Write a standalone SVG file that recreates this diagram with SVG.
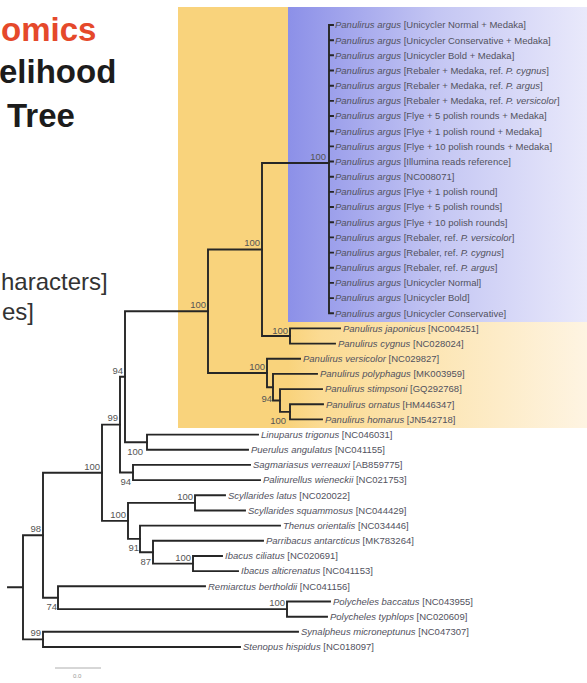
<svg xmlns="http://www.w3.org/2000/svg" width="587" height="683" viewBox="0 0 587 683">
<style>
.br{fill:none;stroke:#262626;stroke-width:1.9;stroke-linecap:square}
.lf{font-family:"Liberation Sans",Arial,sans-serif;font-size:9.5px;fill:#52525e}
.sup{font-family:"Liberation Sans",Arial,sans-serif;font-size:9.5px;fill:#555;text-anchor:end}
.ttl{font-family:"Liberation Sans",Arial,sans-serif;font-size:33px;font-weight:bold;fill:#1c1c1c}
.sub{font-family:"Liberation Sans",Arial,sans-serif;font-size:24px;fill:#333}
.sp{font-style:italic}
</style>
<defs>
<linearGradient id="gy" x1="178" y1="0" x2="587" y2="0" gradientUnits="userSpaceOnUse">
<stop offset="0" stop-color="#f9d37c"/>
<stop offset="0.27" stop-color="#f9d37c"/>
<stop offset="0.35" stop-color="#fbdb93"/>
<stop offset="1" stop-color="#fef4e2"/>
</linearGradient>
<linearGradient id="gb" x1="288" y1="0" x2="587" y2="0" gradientUnits="userSpaceOnUse">
<stop offset="0" stop-color="#8c90e8"/>
<stop offset="0.5" stop-color="#c4c6f3"/>
<stop offset="1" stop-color="#e9e9fb"/>
</linearGradient>
</defs>
<rect width="587" height="683" fill="#fff"/>
<g id="highlights">
<rect x="178" y="7" width="409" height="421" fill="url(#gy)"/>
<rect x="288" y="7" width="299" height="315" fill="url(#gb)"/>
</g>
<g id="title">
<text class="ttl" x="1" y="41" style="fill:#e5492b">omics</text>
<text class="ttl" x="-1" y="83">elihood</text>
<text class="ttl" x="7" y="127">Tree</text>
<text class="sub" x="1" y="290">haracters]</text>
<text class="sub" x="2" y="320">es]</text>
</g>
<g id="connectors">
<path class="br" d="M8,587.3H23M23,535.2V639.4M23,535.2H43M23,639.4H43"/>
<path class="br" d="M43,472.8V597.7M43,472.8H102M43,597.7H58"/>
<path class="br" d="M43,631.8V647M43,631.8H298M43,647H240"/>
<path class="br" d="M58,586.3V609.1M58,586.3H205M58,609.1H287"/>
<path class="br" d="M287,601.5V616.7M287,601.5H330M287,616.7H327"/>
<path class="br" d="M102,424.6V520.9M102,424.6H120M102,520.9H128"/>
<path class="br" d="M120,376.7V472.5M120,376.7H125M120,472.5H133"/>
<path class="br" d="M133,464.9V480.1M133,464.9H250M133,480.1H260"/>
<path class="br" d="M125,311.2V442.2M125,311.2H208M125,442.2H147"/>
<path class="br" d="M147,434.6V449.8M147,434.6H258M147,449.8H248"/>
<path class="br" d="M128,502.9V538.9M128,502.9H195M128,538.9H140"/>
<path class="br" d="M195,495.3V510.5M195,495.3H225M195,510.5H245"/>
<path class="br" d="M140,525.6V552.2M140,525.6H280M140,552.2H153"/>
<path class="br" d="M153,540.8V563.6M153,540.8H263M153,563.6H193"/>
<path class="br" d="M193,556V571.1M193,556H222M193,571.1H238"/>
<path class="br" d="M208,249.5V373M208,249.5H262M208,373H267"/>
<path class="br" d="M262,163V336M262,163H329M262,336H290"/>
<path class="br" d="M290,328.4V343.6M290,328.4H340M290,343.6H335"/>
<path class="br" d="M267,358.7V387.2M267,358.7H300M267,387.2H273"/>
<path class="br" d="M273,373.9V400.5M273,373.9H317M273,400.5H280"/>
<path class="br" d="M280,389.1V411.9M280,389.1H322M280,411.9H290"/>
<path class="br" d="M290,404.3V419.4M290,404.3H323M290,419.4H322"/>
<path class="br" d="M329,25V313.2M329,25H333M329,40.2H333M329,55.3H333M329,70.5H333M329,85.7H333M329,100.9H333M329,116H333M329,131.2H333M329,146.4H333M329,161.5H333M329,176.7H333M329,191.9H333M329,207H333M329,222.2H333M329,237.4H333M329,252.6H333M329,267.7H333M329,282.9H333M329,298.1H333M329,313.2H333"/>
<path d="M55,668H101" stroke="#999" stroke-width="0.8" fill="none"/>
</g>
<g id="support">
<text class="sup" x="41" y="532">98</text>
<text class="sup" x="41" y="636">99</text>
<text class="sup" x="57" y="610">74</text>
<text class="sup" x="100" y="470">100</text>
<text class="sup" x="118" y="421">99</text>
<text class="sup" x="123" y="374">94</text>
<text class="sup" x="206" y="308">100</text>
<text class="sup" x="260" y="246">100</text>
<text class="sup" x="326" y="160">100</text>
<text class="sup" x="288" y="334">100</text>
<text class="sup" x="265" y="370">100</text>
<text class="sup" x="272" y="402">94</text>
<text class="sup" x="286" y="424">100</text>
<text class="sup" x="143" y="455">100</text>
<text class="sup" x="131" y="485">94</text>
<text class="sup" x="126" y="518">100</text>
<text class="sup" x="193" y="500">100</text>
<text class="sup" x="139" y="551">91</text>
<text class="sup" x="151" y="565">87</text>
<text class="sup" x="191" y="561">100</text>
<text class="sup" x="285" y="606">100</text>
<text x="73" y="678" style="font-family:'Liberation Sans',Arial,sans-serif;font-size:6px;fill:#999">0.0</text>
</g>
<g id="leaves">
<g id="n0"><text class="lf" x="335" y="28.3"><tspan class="sp">Panulirus argus</tspan> [Unicycler Normal + Medaka]</text></g>
<g id="n1"><text class="lf" x="335" y="43.5"><tspan class="sp">Panulirus argus</tspan> [Unicycler Conservative + Medaka]</text></g>
<g id="n2"><text class="lf" x="335" y="58.6"><tspan class="sp">Panulirus argus</tspan> [Unicycler Bold + Medaka]</text></g>
<g id="n3"><text class="lf" x="335" y="73.8"><tspan class="sp">Panulirus argus</tspan> [Rebaler + Medaka, ref. <tspan class="sp">P. cygnus</tspan>]</text></g>
<g id="n4"><text class="lf" x="335" y="89"><tspan class="sp">Panulirus argus</tspan> [Rebaler + Medaka, ref. <tspan class="sp">P. argus</tspan>]</text></g>
<g id="n5"><text class="lf" x="335" y="104.2"><tspan class="sp">Panulirus argus</tspan> [Rebaler + Medaka, ref. <tspan class="sp">P. versicolor</tspan>]</text></g>
<g id="n6"><text class="lf" x="335" y="119.3"><tspan class="sp">Panulirus argus</tspan> [Flye + 5 polish rounds + Medaka]</text></g>
<g id="n7"><text class="lf" x="335" y="134.5"><tspan class="sp">Panulirus argus</tspan> [Flye + 1 polish round + Medaka]</text></g>
<g id="n8"><text class="lf" x="335" y="149.7"><tspan class="sp">Panulirus argus</tspan> [Flye + 10 polish rounds + Medaka]</text></g>
<g id="n9"><text class="lf" x="335" y="164.8"><tspan class="sp">Panulirus argus</tspan> [Illumina reads reference]</text></g>
<g id="n10"><text class="lf" x="335" y="180"><tspan class="sp">Panulirus argus</tspan> [NC008071]</text></g>
<g id="n11"><text class="lf" x="335" y="195.2"><tspan class="sp">Panulirus argus</tspan> [Flye + 1 polish round]</text></g>
<g id="n12"><text class="lf" x="335" y="210.3"><tspan class="sp">Panulirus argus</tspan> [Flye + 5 polish rounds]</text></g>
<g id="n13"><text class="lf" x="335" y="225.5"><tspan class="sp">Panulirus argus</tspan> [Flye + 10 polish rounds]</text></g>
<g id="n14"><text class="lf" x="335" y="240.7"><tspan class="sp">Panulirus argus</tspan> [Rebaler, ref. <tspan class="sp">P. versicolor</tspan>]</text></g>
<g id="n15"><text class="lf" x="335" y="255.9"><tspan class="sp">Panulirus argus</tspan> [Rebaler, ref. <tspan class="sp">P. cygnus</tspan>]</text></g>
<g id="n16"><text class="lf" x="335" y="271"><tspan class="sp">Panulirus argus</tspan> [Rebaler, ref. <tspan class="sp">P. argus</tspan>]</text></g>
<g id="n17"><text class="lf" x="335" y="286.2"><tspan class="sp">Panulirus argus</tspan> [Unicycler Normal]</text></g>
<g id="n18"><text class="lf" x="335" y="301.4"><tspan class="sp">Panulirus argus</tspan> [Unicycler Bold]</text></g>
<g id="n19"><text class="lf" x="335" y="316.5"><tspan class="sp">Panulirus argus</tspan> [Unicycler Conservative]</text></g>
<g id="n20"><text class="lf" x="343" y="331.7"><tspan class="sp">Panulirus japonicus</tspan> [NC004251]</text></g>
<g id="n21"><text class="lf" x="338" y="346.9"><tspan class="sp">Panulirus cygnus</tspan> [NC028024]</text></g>
<g id="n22"><text class="lf" x="303" y="362"><tspan class="sp">Panulirus versicolor</tspan> [NC029827]</text></g>
<g id="n23"><text class="lf" x="320" y="377.2"><tspan class="sp">Panulirus polyphagus</tspan> [MK003959]</text></g>
<g id="n24"><text class="lf" x="325" y="392.4"><tspan class="sp">Panulirus stimpsoni</tspan> [GQ292768]</text></g>
<g id="n25"><text class="lf" x="326" y="407.6"><tspan class="sp">Panulirus ornatus</tspan> [HM446347]</text></g>
<g id="n26"><text class="lf" x="325" y="422.7"><tspan class="sp">Panulirus homarus</tspan> [JN542718]</text></g>
<g id="n27"><text class="lf" x="261" y="437.9"><tspan class="sp">Linuparus trigonus</tspan> [NC046031]</text></g>
<g id="n28"><text class="lf" x="251" y="453.1"><tspan class="sp">Puerulus angulatus</tspan> [NC041155]</text></g>
<g id="n29"><text class="lf" x="253" y="468.2"><tspan class="sp">Sagmariasus verreauxi</tspan> [AB859775]</text></g>
<g id="n30"><text class="lf" x="263" y="483.4"><tspan class="sp">Palinurellus wieneckii</tspan> [NC021753]</text></g>
<g id="n31"><text class="lf" x="228" y="498.6"><tspan class="sp">Scyllarides latus</tspan> [NC020022]</text></g>
<g id="n32"><text class="lf" x="248" y="513.8"><tspan class="sp">Scyllarides squammosus</tspan> [NC044429]</text></g>
<g id="n33"><text class="lf" x="283" y="528.9"><tspan class="sp">Thenus orientalis</tspan> [NC034446]</text></g>
<g id="n34"><text class="lf" x="266" y="544.1"><tspan class="sp">Parribacus antarcticus</tspan> [MK783264]</text></g>
<g id="n35"><text class="lf" x="225" y="559.3"><tspan class="sp">Ibacus ciliatus</tspan> [NC020691]</text></g>
<g id="n36"><text class="lf" x="241" y="574.4"><tspan class="sp">Ibacus alticrenatus</tspan> [NC041153]</text></g>
<g id="n37"><text class="lf" x="208" y="589.6"><tspan class="sp">Remiarctus bertholdii</tspan> [NC041156]</text></g>
<g id="n38"><text class="lf" x="333" y="604.8"><tspan class="sp">Polycheles baccatus</tspan> [NC043955]</text></g>
<g id="n39"><text class="lf" x="330" y="620"><tspan class="sp">Polycheles typhlops</tspan> [NC020609]</text></g>
<g id="n40"><text class="lf" x="301" y="635.1"><tspan class="sp">Synalpheus microneptunus</tspan> [NC047307]</text></g>
<g id="n41"><text class="lf" x="243" y="650.3"><tspan class="sp">Stenopus hispidus</tspan> [NC018097]</text></g>
</g>
</svg>
